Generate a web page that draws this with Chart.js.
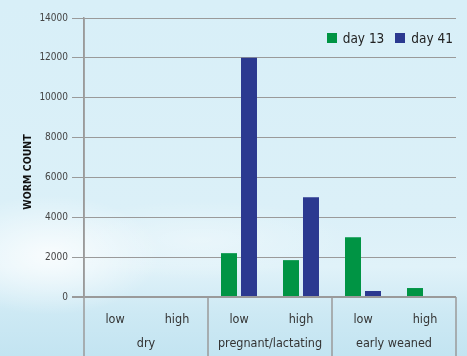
<!DOCTYPE html>
<html>
<head>
<meta charset="utf-8">
<script src="https://cdn.jsdelivr.net/npm/chart.js@4"></script>
<style>
  html, body { margin: 0; padding: 0; }
  body {
    width: 467px; height: 356px; overflow: hidden;
    background:
      radial-gradient(ellipse 110px 60px at 50px 255px, rgba(255,255,255,0.8), rgba(255,255,255,0) 100%),
      radial-gradient(ellipse 150px 40px at 200px 240px, rgba(255,255,255,0.35), rgba(255,255,255,0) 100%),
      linear-gradient(to bottom, #d8eff8 0%, #dbf0f8 60%, #e0f2f9 75%, #cde9f4 88%, #c3e4f1 100%);
  }
  #wrap { position: relative; width: 467px; height: 356px; }
  #legend {
    position: absolute; top: 30px; right: 14px;
    display: flex; gap: 11px; white-space: nowrap;
    font: 13.5px 'Liberation Sans Narrow', 'DejaVu Sans Condensed', sans-serif;
    color: #222;
  }
  #legend span.item { display: flex; align-items: center; }
  #legend i { display: inline-block; width: 10px; height: 10px; margin-right: 6px; }
</style>
</head>
<body>
<div id="wrap"><canvas id="chart" width="467" height="356"></canvas><div id="legend"></div></div>
<script>
// worm counts per pasture group / stocking level
const groups = ['dry', 'pregnant/lactating', 'early weaned'];
const levels = ['low', 'high', 'low', 'high', 'low', 'high'];
const day13 = [0, 0, 2200, 1850, 3000, 450];
const day41 = [0, 0, 12000, 5000, 300, 0];
const yMax = 14000;
const yStep = 2000;

const FONT = "'Liberation Sans Narrow', 'DejaVu Sans Condensed', sans-serif";
const gridColor = '#9a9a9a';
const textColor = '#333';

// group separators under the axis + the y title
const tablePlugin = {
  id: 'tableLines',
  afterDraw(chart) {
    const ctx = chart.ctx;
    const x = chart.scales.x;
    const area = chart.chartArea;
    ctx.save();
    ctx.strokeStyle = gridColor;
    ctx.lineWidth = 1.5;
    [-0.5, 1.5, 3.5, 5.5].forEach(v => {
      const px = Math.round(x.getPixelForValue(v));
      ctx.beginPath();
      ctx.moveTo(px, v < 0 ? area.top : area.bottom);
      ctx.lineTo(px, chart.height);
      ctx.stroke();
    });
    ctx.translate(28, 172);
    ctx.rotate(-Math.PI / 2);
    ctx.fillStyle = '#111';
    ctx.font = '600 10.5px ' + FONT;
    ctx.textAlign = 'center';
    ctx.textBaseline = 'middle';
    ctx.fillText('WORM COUNT', 0, 0);
    ctx.restore();
  }
};

const chart = new Chart(document.getElementById('chart'), {
  type: 'bar',
  data: {
    labels: levels,
    datasets: [
      { label: 'day 13', data: day13, backgroundColor: '#009444' },
      { label: 'day 41', data: day41, backgroundColor: '#2b3990' }
    ]
  },
  options: {
    responsive: false,
    animation: false,
    categoryPercentage: 0.645,
    barPercentage: 0.8,
    layout: { padding: { top: 18, right: 11, bottom: 0, left: 0 } },
    plugins: {
      legend: { display: false },
      tooltip: { enabled: false }
    },
    scales: {
      x: {
        afterFit: s => { s.height = 34; },
        grid: { display: false, drawTicks: false },
        border: { display: false },
        ticks: {
          color: textColor, padding: 15, maxRotation: 0, autoSkip: false,
          font: { family: FONT, size: 12.5 }
        }
      },
      x2: {
        type: 'category',
        labels: groups,
        position: 'bottom',
        offset: true,
        afterFit: s => { s.height = 25; },
        grid: { display: false, drawTicks: false },
        border: { display: false },
        ticks: {
          color: textColor, padding: 5, maxRotation: 0, autoSkip: false,
          font: { family: FONT, size: 12.5 }
        }
      },
      y: {
        min: 0,
        max: yMax,
        afterFit: s => { s.width = 84; },
        ticks: {
          stepSize: yStep,
          padding: 4,
          color: '#444',
          font: { family: FONT, size: 10 },
          callback: v => String(v)
        },
        grid: {
          color: gridColor,
          tickLength: 12,
          lineWidth: c => (c.tick && c.tick.value === 0 ? 2 : 1)
        },
        border: { display: true, color: gridColor, width: 1.5 }
      }
    }
  },
  plugins: [tablePlugin]
});

// legend sits inside the plot area, top right
const legendEl = document.getElementById('legend');
chart.data.datasets.forEach(ds => {
  const item = document.createElement('span');
  item.className = 'item';
  const box = document.createElement('i');
  box.style.background = ds.backgroundColor;
  item.appendChild(box);
  item.appendChild(document.createTextNode(ds.label));
  legendEl.appendChild(item);
});
</script>
</body>
</html>
